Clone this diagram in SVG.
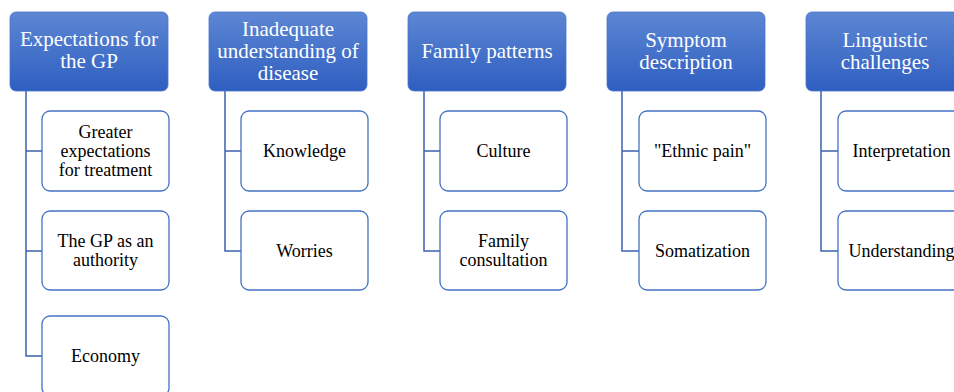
<svg xmlns="http://www.w3.org/2000/svg" width="954" height="392" viewBox="0 0 954 392">
<defs>
<linearGradient id="hg" x1="0" y1="0" x2="0" y2="1">
<stop offset="0" stop-color="#5d87d4"/>
<stop offset="1" stop-color="#2e5ec0"/>
</linearGradient>
<style>
.h rect{fill:url(#hg);stroke:#4a74c8;stroke-width:0.8}
.h text{fill:#fff;font-family:"Liberation Serif","Times New Roman",serif;font-size:21px;text-anchor:middle}
.c rect{fill:#fff;stroke:#4472c4;stroke-width:1.3}
.c text{fill:#000;font-family:"Liberation Serif","Times New Roman",serif;font-size:18px;text-anchor:middle}
.conn path{fill:none;stroke:#3d62b0;stroke-width:1.5}
</style>
</defs>
<rect width="954" height="392" fill="#fff"/>
<g class="conn" id="connectors">
<path d="M26 91V356H42M26 151H42M26 251H42"/>
<path d="M225 91V251H241M225 151H241"/>
<path d="M424 91V251H440M424 151H440"/>
<path d="M622 91V251H639M622 151H639"/>
<path d="M821 91V251H838M821 151H838"/>
</g>
<g class="h" id="h1"><rect x="10" y="12" width="158" height="79" rx="6"/><text x="89" y="46">Expectations for</text><text x="89" y="68">the GP</text></g>
<g class="h" id="h2"><rect x="209" y="12" width="158" height="79" rx="6"/><text x="288" y="36">Inadequate</text><text x="288" y="58">understanding of</text><text x="288" y="80">disease</text></g>
<g class="h" id="h3"><rect x="408" y="12" width="158" height="79" rx="6"/><text x="487" y="58">Family patterns</text></g>
<g class="h" id="h4"><rect x="607" y="12" width="158" height="79" rx="6"/><text x="686" y="47">Symptom</text><text x="686" y="69">description</text></g>
<g class="h" id="h5"><rect x="806" y="12" width="158" height="79" rx="6"/><text x="885" y="47">Linguistic</text><text x="885" y="69">challenges</text></g>

<g class="c" id="c1a"><rect x="42" y="111" width="127" height="80" rx="8"/><text x="105.5" y="138">Greater</text><text x="105.5" y="157">expectations</text><text x="105.5" y="176">for treatment</text></g>
<g class="c" id="c1b"><rect x="42" y="211" width="127" height="79" rx="8"/><text x="105.5" y="247">The GP as an</text><text x="105.5" y="266">authority</text></g>
<g class="c" id="c1c"><rect x="42" y="316" width="127" height="80" rx="8"/><text x="105.5" y="362">Economy</text></g>

<g class="c" id="c2a"><rect x="241" y="111" width="127" height="80" rx="8"/><text x="304.5" y="157">Knowledge</text></g>
<g class="c" id="c2b"><rect x="241" y="211" width="127" height="79" rx="8"/><text x="304.5" y="257">Worries</text></g>

<g class="c" id="c3a"><rect x="440" y="111" width="127" height="80" rx="8"/><text x="503.5" y="157">Culture</text></g>
<g class="c" id="c3b"><rect x="440" y="211" width="127" height="79" rx="8"/><text x="503.5" y="247">Family</text><text x="503.5" y="266">consultation</text></g>

<g class="c" id="c4a"><rect x="639" y="111" width="127" height="80" rx="8"/><text x="702.5" y="157">"Ethnic pain"</text></g>
<g class="c" id="c4b"><rect x="639" y="211" width="127" height="79" rx="8"/><text x="702.5" y="257">Somatization</text></g>

<g class="c" id="c5a"><rect x="838" y="111" width="127" height="80" rx="8"/><text x="901.5" y="157">Interpretation</text></g>
<g class="c" id="c5b"><rect x="838" y="211" width="127" height="79" rx="8"/><text x="901.5" y="257">Understanding</text></g>
</svg>
